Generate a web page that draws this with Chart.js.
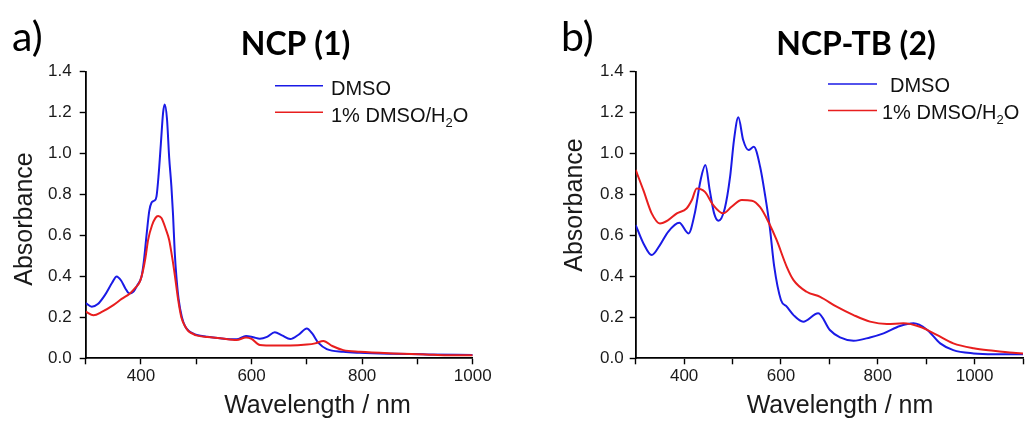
<!DOCTYPE html>
<html>
<head>
<meta charset="utf-8">
<script src="https://cdn.jsdelivr.net/npm/chart.js@4.4.0/dist/chart.umd.min.js"></script>
<style>
    body { margin: 0; background: #fff; }
    #wrap { position: relative; width: 1033px; height: 421px; }
    canvas { position: absolute; top: 0; }
    #chartA { left: 0; }
    #chartB { left: 520px; }
</style>
</head>
<body>
<div id="wrap">
    <canvas id="chartA" width="520" height="421"></canvas>
    <canvas id="chartB" width="513" height="421"></canvas>
</div>
<script>
// SERIES NAMES
const seriesNames = ["DMSO", "1% DMSO/H2O"];

// PANEL A - NCP (1)
const wlDmsoA = [300,311,322,335,348,356,364,372,379,386,393,401,405,410,415,419,424,428,432,436,
    440,443,447,451,455,458,461,464,468,474,480,486,495,501,520,543,573,590,603,615,
    628,642,655,670,685,700,710,721,736,766,796,856,916,1000];
const absDmsoA = [0.27,0.252,0.265,0.31,0.37,0.40,0.38,0.34,0.317,0.325,0.355,0.40,0.47,0.60,0.72,0.76,0.77,0.79,0.90,1.05,
    1.20,1.24,1.17,0.98,0.84,0.70,0.52,0.40,0.29,0.20,0.155,0.135,0.12,0.114,0.105,0.098,0.093,0.109,0.103,0.096,
    0.105,0.127,0.112,0.094,0.115,0.146,0.12,0.075,0.045,0.032,0.027,0.022,0.019,0.016];

const wlWaterA = [300,314,330,350,365,380,390,398,403,408,413,420,426,431,437,445,451,456,460,464,
    467,473,480,486,495,500,520,543,573,590,600,615,642,670,700,715,730,746,766,796,
    856,916,953,1000];
const absWaterA = [0.228,0.21,0.228,0.26,0.29,0.317,0.345,0.374,0.42,0.49,0.58,0.65,0.685,0.695,0.685,0.63,0.578,0.50,0.43,0.35,
    0.29,0.20,0.155,0.132,0.118,0.112,0.104,0.098,0.089,0.102,0.095,0.065,0.062,0.062,0.067,0.073,0.085,0.06,0.04,0.032,
    0.024,0.019,0.015,0.015];

// PANEL B - NCP-TB (2)
const wlDmsoB = [300,316,333,350,367,390,409,422,434,444,453,462,471,484,495,503,512,522,533,544,
    557,567,577,586,600,612,626,646,677,701,722,750,784,812,846,874,901,929,956,998,
    1039,1100];
const absDmsoB = [0.651,0.561,0.504,0.553,0.618,0.662,0.61,0.708,0.87,0.944,0.82,0.708,0.672,0.732,0.887,1.066,1.177,1.066,1.017,1.033,
    0.936,0.80,0.64,0.45,0.285,0.252,0.211,0.179,0.22,0.138,0.102,0.086,0.102,0.122,0.158,0.171,0.141,0.073,0.040,0.024,
    0.02,0.02];

const wlWaterB = [300,316,333,350,367,385,405,416,426,443,460,481,498,519,540,557,574,591,612,626,
    653,681,715,750,784,819,853,887,922,956,998,1039,1080,1100];
const absWaterB = [0.92,0.82,0.708,0.659,0.675,0.708,0.732,0.773,0.83,0.813,0.749,0.708,0.74,0.773,0.77,0.738,0.667,0.578,0.447,0.382,
    0.325,0.30,0.252,0.211,0.179,0.167,0.171,0.154,0.114,0.073,0.049,0.037,0.027,0.024];

// TICK SETUP
const yMax = 1.4;
const yStep = 0.2;
const xStep = 100;

const BLUE = "#1a1ae6";
const RED = "#e81e1e";
const SANS = "'Liberation Sans', Arial, sans-serif";

// Draws panel letter, bold title, axis titles and the legend
const panelText = {
    id: "panelText",
    afterDraw(chart, args, o) {
        const ctx = chart.ctx;
        ctx.save();
        ctx.fillStyle = "#000";
        ctx.textBaseline = "alphabetic";

        ctx.font = "41px Lato";
        ctx.textAlign = "left";
        ctx.fillText(o.letter, o.letterX, 51);

        ctx.font = "bold 32px Lato";
        ctx.textAlign = "center";
        ctx.fillText(o.title, o.titleX, 55);

        ctx.fillStyle = "#1a1a1a";
        ctx.font = "25px " + SANS;
        ctx.fillText("Wavelength / nm", o.xTitleX, 413);

        ctx.save();
        ctx.translate(o.yTitleX, o.yTitleY);
        ctx.rotate(-Math.PI / 2);
        ctx.fillText("Absorbance", 0, 0);
        ctx.restore();

        // LEGEND
        const colors = [BLUE, RED];
        ctx.textAlign = "left";
        seriesNames.forEach((name, i) => {
            ctx.strokeStyle = colors[i];
            ctx.lineWidth = 1.5;
            ctx.beginPath();
            ctx.moveTo(o.lx0, o.ly[i]);
            ctx.lineTo(o.lx1, o.ly[i]);
            ctx.stroke();

            ctx.fillStyle = "#111";
            let x = o.tx[i];
            const y = o.ty[i];
            const parts = name.split("H2O");
            ctx.font = "20px " + SANS;
            ctx.fillText(parts[0], x, y);
            if (parts.length > 1) {
                x += ctx.measureText(parts[0]).width;
                ctx.fillText("H", x, y);
                x += ctx.measureText("H").width;
                ctx.font = "13px " + SANS;
                ctx.fillText("2", x, y + 5);
                x += ctx.measureText("2").width;
                ctx.font = "20px " + SANS;
                ctx.fillText("O", x, y);
            }
        });
        ctx.restore();
    }
};

function toPoints(xs, ys) {
    return xs.map((x, i) => ({ x: x, y: ys[i] }));
}

function makeChart(id, wlD, absD, wlW, absW, xMax, yWidth, yPad, padRight, text) {
    const axisGrid = {
        drawOnChartArea: false,
        drawTicks: true,
        tickLength: 6,
        tickColor: "#000",
        tickWidth: 1.4
    };
    const axisBorder = { display: true, color: "#000", width: 1.8 };
    const tickFont = { family: SANS, size: 17 };

    return new Chart(document.getElementById(id), {
        type: "line",
        data: {
            datasets: [
                {
                    label: seriesNames[0],
                    data: toPoints(wlD, absD),
                    borderColor: BLUE,
                    borderWidth: 2,
                    pointRadius: 0,
                    cubicInterpolationMode: "monotone",
                    order: 1
                },
                {
                    label: seriesNames[1],
                    data: toPoints(wlW, absW),
                    borderColor: RED,
                    borderWidth: 2,
                    pointRadius: 0,
                    cubicInterpolationMode: "monotone",
                    order: 0
                }
            ]
        },
        options: {
            responsive: false,
            animation: false,
            events: [],
            layout: {
                padding: { left: 0, top: 71.7, right: padRight, bottom: 0 }
            },
            plugins: {
                legend: { display: false },
                tooltip: { enabled: false },
                panelText: text
            },
            scales: {
                x: {
                    type: "linear",
                    min: 300,
                    max: xMax,
                    afterFit: s => { s.height = 62.7; },
                    ticks: {
                        stepSize: xStep,
                        autoSkip: false,
                        maxRotation: 0,
                        color: "#1a1a1a",
                        font: tickFont,
                        padding: 2,
                        callback: v => (v % 200 === 0 ? v : "")
                    },
                    grid: axisGrid,
                    border: axisBorder
                },
                y: {
                    min: 0,
                    max: yMax,
                    afterFit: s => { s.width = yWidth; },
                    ticks: {
                        stepSize: yStep,
                        color: "#1a1a1a",
                        font: tickFont,
                        padding: yPad,
                        callback: v => v.toFixed(1)
                    },
                    grid: axisGrid,
                    border: axisBorder
                }
            }
        },
        plugins: [panelText]
    });
}

// START
makeChart("chartA", wlDmsoA, absDmsoA, wlWaterA, absWaterA, 1000, 85.7, 8, 47.3, {
    letter: "a)", letterX: 12, title: "NCP (1)", titleX: 295.5,
    xTitleX: 317.5, yTitleX: 32, yTitleY: 219,
    lx0: 275, lx1: 323, ly: [85.7, 112.3], tx: [331, 331], ty: [95, 121.7]
});

makeChart("chartB", wlDmsoB, absDmsoB, wlWaterB, absWaterB, 1100, 115.7, 6, 10, {
    letter: "b)", letterX: 41, title: "NCP-TB (2)", titleX: 336,
    xTitleX: 320, yTitleX: 62, yTitleY: 205,
    lx0: 308, lx1: 357, ly: [84, 110.5], tx: [370, 362], ty: [92, 118.7]
});
</script>
</body>
</html>
